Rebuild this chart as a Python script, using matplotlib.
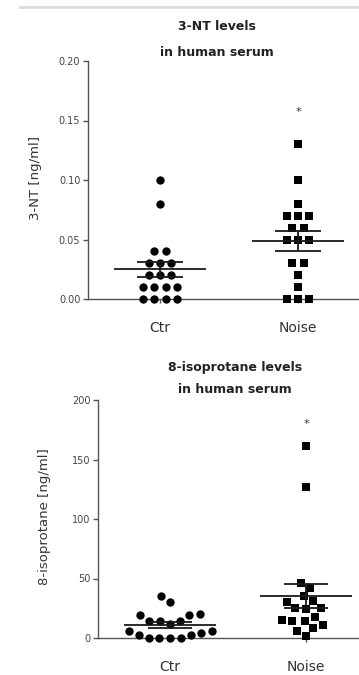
import numpy as np
import matplotlib
matplotlib.use("Agg")
import matplotlib.pyplot as plt
from matplotlib.lines import Line2D

# ---------------- data ----------------
groups = ["Ctr", "Noise"]
nt_ctr = [0.10, 0.08, 0.04, 0.04, 0.03, 0.03, 0.03, 0.02, 0.02, 0.02,
          0.01, 0.01, 0.01, 0.01, 0.00, 0.00, 0.00, 0.00]
nt_noise = [0.13, 0.10, 0.08, 0.07, 0.07, 0.07, 0.06, 0.06, 0.05, 0.05,
            0.05, 0.03, 0.03, 0.02, 0.01, 0.00, 0.00, 0.00]
iso_ctr = [6, 19, 4, 14, 2.5, 14, 0, 30, 12, 0, 35, 14, 0, 0, 19, 2.5, 20, 6]
iso_noise = [1.4, 6, 8, 11, 14, 14, 15.5, 18, 25, 24.5, 25, 31, 30, 35,
             42, 46, 127, 161]
nt_ticks = [0.00, 0.05, 0.10, 0.15, 0.20]
nt_ticklabels = ["0.00", "0.05", "0.10", "0.15", "0.20"]
iso_ticks = [0, 50, 100, 150, 200]
iso_ticklabels = ["0", "50", "100", "150", "200"]
nt_star = 0.157
iso_star = 180

top_title = ["3-NT levels", "in human serum"]
bot_title = ["8-isoprotane levels", "in human serum"]
top_ylabel = "3-NT [ng/ml]"
bot_ylabel = "8-isoprotane [ng/ml]"

# ---------------- style ----------------
FONT = "DejaVu Sans"
plt.rcParams["font.family"] = [FONT]
TXT = "#333333"
AXC = "#555555"
W, H = 359, 675

fig = plt.figure(figsize=(W / 100, H / 100), dpi=100)
fig.patch.set_facecolor("white")

# light gray rule at the top
fig.add_artist(Line2D([20 / W, 1.0], [1 - 7 / H, 1 - 7 / H],
                      color="#dcdcdc", lw=2.0, transform=fig.transFigure))

ax1 = fig.add_axes([88 / W, 1 - 299 / H, 271 / W, 238 / H])
ax2 = fig.add_axes([98 / W, 1 - 638 / H, 261 / W, 238 / H])
ax1.set_xlim(-72 / 138, -72 / 138 + 271 / 138)
ax1.set_ylim(0, 0.20)
ax2.set_xlim(-72 / 136, -72 / 136 + 261 / 136)
ax2.set_ylim(0, 200)


def px_per_unit(ax):
    t = ax.transData
    return t.transform((1, 0))[0] - t.transform((0, 0))[0]


def row_offsets(ax, vals, spacing_px):
    vals = np.asarray(vals, float)
    xs = np.zeros(len(vals))
    ppu = px_per_unit(ax)
    for v in np.unique(vals):
        idx = np.where(np.isclose(vals, v))[0]
        n = len(idx)
        for k, i in enumerate(idx):
            xs[i] = (k - (n - 1) / 2) * spacing_px / ppu
    return xs


def swarm_offsets(ax, vals, d_px):
    tr = ax.transData
    ys = np.array([tr.transform((0, v))[1] for v in vals])
    order = np.argsort(ys, kind="stable")
    placed = []
    xs = np.zeros(len(vals))
    for i in order:
        y = ys[i]
        near = [(px, py) for px, py in placed if abs(py - y) < d_px]
        cands = [0.0]
        for px, py in near:
            dx = np.sqrt(d_px ** 2 - (py - y) ** 2)
            cands += [px - dx, px + dx]
        cands.sort(key=lambda c: (abs(c), c))
        for c in cands:
            if all((c - px) ** 2 + (y - py) ** 2 >= d_px ** 2 - 1e-6
                   for px, py in near):
                xs[i] = c
                placed.append((c, y))
                break
    return xs / px_per_unit(ax)


def mean_sem(ax, x, vals):
    v = np.asarray(vals, float)
    m = v.mean()
    s = v.std(ddof=1) / np.sqrt(len(v))
    kw = dict(color="#1a1a1a", lw=1.3, zorder=4, solid_capstyle="butt",
              clip_on=False)
    ax.plot([x - 0.335, x + 0.335], [m, m], **kw)
    ax.plot([x - 0.165, x + 0.165], [m + s, m + s], **kw)
    ax.plot([x - 0.165, x + 0.165], [m - s, m - s], **kw)
    ax.plot([x, x], [m - s, m + s], **kw)


def style_axes(ax, ticks, ticklabels, top):
    for sp in ("top", "right"):
        ax.spines[sp].set_visible(False)
    for sp in ("left", "bottom"):
        ax.spines[sp].set_color(AXC)
        ax.spines[sp].set_linewidth(1.0)
    ax.spines["left"].set_bounds(0, top)
    ax.set_yticks(ticks)
    ax.set_yticklabels(ticklabels)
    ax.set_xticks([0, 1])
    ax.set_xticklabels(groups)
    ax.tick_params(axis="y", direction="out", length=3.5, width=1.0,
                   color=AXC, labelsize=7, labelcolor="#444444", pad=2)
    ax.tick_params(axis="x", direction="out", length=3, width=1.0,
                   color=AXC, labelsize=10, labelcolor=TXT, pad=13)
    ax.set_facecolor("none")


# ---------------- top panel ----------------
style_axes(ax1, nt_ticks, nt_ticklabels, 0.20)
xc = row_offsets(ax1, nt_ctr, 11.2)
xn = row_offsets(ax1, nt_noise, 11.2)
ax1.scatter(0 + xc, nt_ctr, s=36, marker="o", color="black", lw=0,
            zorder=3, clip_on=False)
ax1.scatter(1 + xn, nt_noise, s=30, marker="s", color="black", lw=0,
            zorder=3, clip_on=False)
mean_sem(ax1, 0, nt_ctr)
mean_sem(ax1, 1, nt_noise)
ax1.text(1, nt_star, "*", ha="center", va="center", fontsize=8, color=TXT)

# ---------------- bottom panel ----------------
style_axes(ax2, iso_ticks, iso_ticklabels, 200)
xc2 = swarm_offsets(ax2, iso_ctr, 10.6)
xn2 = swarm_offsets(ax2, iso_noise, 10.6)
ax2.scatter(0 + xc2, iso_ctr, s=36, marker="o", color="black", lw=0,
            zorder=3, clip_on=False)
ax2.scatter(1 + xn2, iso_noise, s=30, marker="s", color="black", lw=0,
            zorder=3, clip_on=False)
mean_sem(ax2, 0, iso_ctr)
mean_sem(ax2, 1, iso_noise)
ax2.text(1, iso_star, "*", ha="center", va="center", fontsize=8, color=TXT)

# ---------------- titles & labels ----------------
for txt, yy in zip(top_title, (27, 52)):
    fig.text(217 / W, 1 - yy / H, txt, ha="center", va="center",
             fontsize=9, fontweight="bold", color="#222222")
for txt, yy in zip(bot_title, (367, 390)):
    fig.text(235 / W, 1 - yy / H, txt, ha="center", va="center",
             fontsize=9, fontweight="bold", color="#222222")

fig.text(35 / W, 1 - 178 / H, top_ylabel, rotation=90, ha="center",
         va="center", fontsize=9.5, color=TXT)
fig.text(45 / W, 1 - 517 / H, bot_ylabel, rotation=90, ha="center",
         va="center", fontsize=9.5, color=TXT)

fig.savefig("out.png", dpi=100, facecolor="white")
